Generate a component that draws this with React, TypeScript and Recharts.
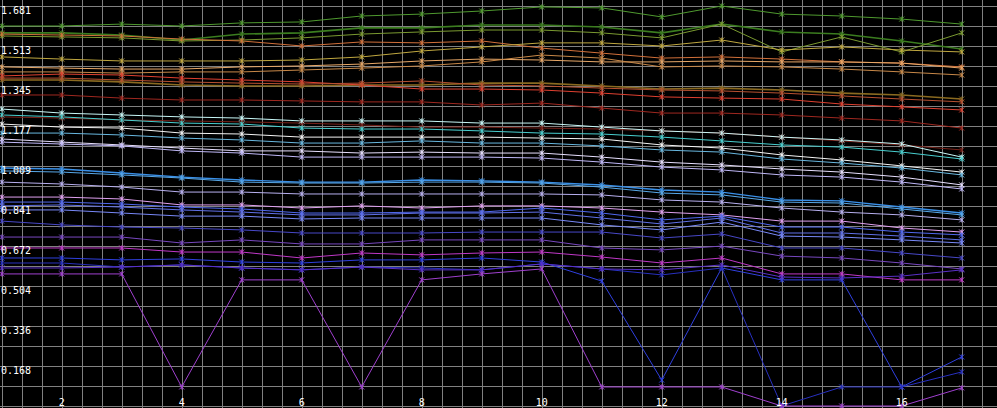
import React from "react";
import { CartesianGrid, Line, LineChart, XAxis, YAxis } from "recharts";

// Dense multi-series trace plot on a black field: ~30 series, x = 1..17.
// Values (y in data units).

const X_VALUES = [1, 2, 3, 4, 5, 6, 7, 8, 9, 10, 11, 12, 13, 14, 15, 16, 17];
const X_TICKS = [2, 4, 6, 8, 10, 12, 14, 16];
const Y_TICKS = [0.1681, 0.3362, 0.5043, 0.6724, 0.8405, 1.0086, 1.1767, 1.3448, 1.5129, 1.681];
const Y_LABELS = ["0.168", "0.336", "0.504", "0.672", "0.841", "1.009", "1.177", "1.345", "1.513", "1.681"];

// greens / olives
const S1 = [1.597, 1.597, 1.605, 1.597, 1.61, 1.614, 1.639, 1.647, 1.66, 1.677, 1.673, 1.635, 1.681, 1.647, 1.639, 1.626, 1.605];
const S2 = [1.568, 1.568, 1.559, 1.538, 1.563, 1.568, 1.589, 1.589, 1.601, 1.601, 1.593, 1.568, 1.605, 1.572, 1.563, 1.534, 1.5];
const S3 = [1.555, 1.551, 1.547, 1.534, 1.538, 1.547, 1.563, 1.572, 1.58, 1.58, 1.568, 1.547, 1.605, 1.488, 1.551, 1.488, 1.568];
// oranges
const S4 = [1.563, 1.559, 1.555, 1.542, 1.534, 1.513, 1.53, 1.526, 1.534, 1.504, 1.483, 1.462, 1.467, 1.458, 1.446, 1.441, 1.425];
const S5 = [1.467, 1.458, 1.45, 1.45, 1.45, 1.454, 1.467, 1.492, 1.509, 1.526, 1.526, 1.513, 1.538, 1.496, 1.509, 1.496, 1.488];
const S6 = [1.425, 1.42, 1.416, 1.416, 1.425, 1.429, 1.437, 1.45, 1.458, 1.454, 1.446, 1.446, 1.45, 1.446, 1.446, 1.441, 1.42];
const S7 = [1.404, 1.404, 1.399, 1.404, 1.404, 1.412, 1.42, 1.429, 1.446, 1.475, 1.462, 1.425, 1.429, 1.425, 1.416, 1.404, 1.391];
// reds
const S8 = [1.37, 1.37, 1.362, 1.349, 1.345, 1.345, 1.349, 1.349, 1.357, 1.357, 1.345, 1.332, 1.336, 1.328, 1.315, 1.307, 1.29];
const S9 = [1.387, 1.395, 1.391, 1.378, 1.37, 1.362, 1.349, 1.332, 1.332, 1.328, 1.315, 1.299, 1.294, 1.29, 1.269, 1.257, 1.244];
const S10 = [1.378, 1.378, 1.37, 1.362, 1.357, 1.353, 1.357, 1.366, 1.349, 1.345, 1.336, 1.328, 1.324, 1.315, 1.303, 1.29, 1.278];
const S11 = [1.307, 1.307, 1.294, 1.286, 1.286, 1.282, 1.278, 1.278, 1.265, 1.273, 1.252, 1.231, 1.231, 1.223, 1.21, 1.198, 1.168];
const S12 = [1.215, 1.21, 1.202, 1.198, 1.194, 1.189, 1.181, 1.172, 1.172, 1.168, 1.164, 1.156, 1.147, 1.13, 1.114, 1.097, 1.076];
// cyans / whites
const W1 = [1.248, 1.231, 1.223, 1.215, 1.21, 1.198, 1.198, 1.198, 1.189, 1.189, 1.172, 1.156, 1.147, 1.13, 1.118, 1.101, 1.046];
const W2 = [1.223, 1.215, 1.202, 1.189, 1.185, 1.168, 1.164, 1.164, 1.156, 1.147, 1.143, 1.13, 1.114, 1.097, 1.088, 1.067, 1.038];
const W3 = [1.185, 1.172, 1.168, 1.147, 1.143, 1.13, 1.13, 1.13, 1.13, 1.126, 1.122, 1.097, 1.084, 1.055, 1.034, 1.009, 0.983];
const W4 = [1.147, 1.147, 1.139, 1.126, 1.118, 1.105, 1.105, 1.114, 1.105, 1.105, 1.093, 1.076, 1.067, 1.038, 1.021, 1.0, 0.971];
const W5 = [1.122, 1.109, 1.097, 1.084, 1.072, 1.072, 1.063, 1.067, 1.063, 1.063, 1.046, 1.025, 1.013, 0.996, 0.983, 0.962, 0.929];
const W6 = [1.109, 1.101, 1.093, 1.072, 1.063, 1.046, 1.046, 1.046, 1.046, 1.042, 1.025, 1.004, 0.992, 0.971, 0.962, 0.941, 0.912];
// blues / lavenders / purples
const L18 = [1.0, 0.996, 0.979, 0.962, 0.95, 0.941, 0.941, 0.95, 0.946, 0.941, 0.929, 0.908, 0.899, 0.866, 0.862, 0.836, 0.811];
const L19 = [0.988, 0.983, 0.971, 0.958, 0.941, 0.937, 0.937, 0.941, 0.941, 0.937, 0.92, 0.895, 0.887, 0.857, 0.853, 0.828, 0.803];
const L20 = [0.941, 0.933, 0.92, 0.899, 0.899, 0.891, 0.891, 0.891, 0.891, 0.891, 0.887, 0.866, 0.857, 0.832, 0.815, 0.803, 0.782];
const L21 = [0.878, 0.878, 0.87, 0.845, 0.845, 0.832, 0.841, 0.832, 0.841, 0.841, 0.832, 0.815, 0.803, 0.777, 0.777, 0.748, 0.731];
const L22 = [0.857, 0.857, 0.849, 0.836, 0.828, 0.811, 0.811, 0.815, 0.815, 0.832, 0.811, 0.782, 0.798, 0.752, 0.752, 0.731, 0.719];
const L23 = [0.841, 0.845, 0.836, 0.824, 0.815, 0.803, 0.803, 0.811, 0.811, 0.815, 0.79, 0.765, 0.79, 0.727, 0.727, 0.714, 0.698];
const L24 = [0.824, 0.824, 0.811, 0.798, 0.798, 0.786, 0.79, 0.79, 0.79, 0.79, 0.761, 0.74, 0.773, 0.714, 0.71, 0.698, 0.685];
const L25 = [0.777, 0.761, 0.752, 0.748, 0.74, 0.727, 0.727, 0.727, 0.731, 0.731, 0.731, 0.706, 0.723, 0.664, 0.664, 0.643, 0.622];
const L26 = [0.71, 0.71, 0.71, 0.685, 0.698, 0.681, 0.681, 0.698, 0.698, 0.698, 0.664, 0.656, 0.672, 0.63, 0.622, 0.601, 0.576];
const L27 = [0.664, 0.664, 0.664, 0.647, 0.647, 0.622, 0.643, 0.635, 0.643, 0.647, 0.626, 0.601, 0.622, 0.555, 0.555, 0.53, 0.53];
const L28 = [0.622, 0.622, 0.614, 0.618, 0.605, 0.601, 0.614, 0.614, 0.622, 0.605, 0.525, 0.109, 0.58, 0.53, 0.53, 0.08, 0.206];
const L29 = [0.601, 0.601, 0.584, 0.593, 0.58, 0.572, 0.584, 0.58, 0.572, 0.597, 0.576, 0.551, 0.58, 0.0, 0.08, 0.08, 0.143];
const L30 = [0.58, 0.58, 0.584, 0.593, 0.58, 0.572, 0.584, 0.572, 0.572, 0.597, 0.576, 0.572, 0.593, 0.542, 0.538, 0.546, 0.572];
const P1 = [0.555, 0.555, 0.555, 0.08, 0.53, 0.53, 0.08, 0.53, 0.555, 0.576, 0.08, 0.08, 0.08, 0.0, 0.0, 0.0, 0.076];

const SERIES: { key: string; values: number[]; color: string; width?: number }[] = [
  { key: "s1", values: S1, color: "#4f9a2f" },
  { key: "s2", values: S2, color: "#3b7d1f", width: 1.6 },
  { key: "s3", values: S3, color: "#7a9a30" },
  { key: "s4", values: S4, color: "#d2703a" },
  { key: "s5", values: S5, color: "#c0a840" },
  { key: "s6", values: S6, color: "#e8a868" },
  { key: "s7", values: S7, color: "#c88848" },
  { key: "s8", values: S8, color: "#8a6a20", width: 1.6 },
  { key: "s9", values: S9, color: "#e04030" },
  { key: "s10", values: S10, color: "#b85030" },
  { key: "s11", values: S11, color: "#a02820" },
  { key: "s12", values: S12, color: "#782018" },
  { key: "w1", values: W1, color: "#c8f8f8" },
  { key: "w2", values: W2, color: "#48d0d0" },
  { key: "w3", values: W3, color: "#f4f4f4" },
  { key: "w4", values: W4, color: "#68b8e0" },
  { key: "w5", values: W5, color: "#e8e0ff" },
  { key: "w6", values: W6, color: "#c0b8f8" },
  { key: "l18", values: L18, color: "#3a90e8", width: 1.4 },
  { key: "l19", values: L19, color: "#58a8e8" },
  { key: "l20", values: L20, color: "#b8b0f0" },
  { key: "l21", values: L21, color: "#e0a0f0" },
  { key: "l22", values: L22, color: "#5068f0" },
  { key: "l23", values: L23, color: "#6070e8" },
  { key: "l24", values: L24, color: "#7888f8" },
  { key: "l25", values: L25, color: "#4848c8" },
  { key: "l26", values: L26, color: "#7848c0" },
  { key: "l27", values: L27, color: "#c038c8" },
  { key: "l28", values: L28, color: "#3040e0" },
  { key: "l29", values: L29, color: "#2830c0" },
  { key: "l30", values: L30, color: "#5a30c8" },
  { key: "p1", values: P1, color: "#a040d0" },
];

const rows = X_VALUES.map((x, i) => {
  const r: Record<string, number> = { x };
  SERIES.forEach((s) => (r[s.key] = s.values[i]));
  return r;
});

// plot area spans the whole window; x=1 sits ~2px in, 0 sits 2px above the bottom
const X_DOMAIN: [number, number] = [0.9717, 17.588];
const Y_DOMAIN: [number, number] = [-0.0084, 1.7062];
// fine 20px grid: every 1/3 on x, every 0.08405 on y
const GRID_X = Array.from({ length: 50 }, (_, k) => 1 + k / 3);
const GRID_Y = Array.from({ length: 21 }, (_, k) => k * 0.08405);

const FONT = "'DejaVu Sans Mono', monospace";

function gridX({ offset }: any) {
  const [d0, d1] = X_DOMAIN;
  return GRID_X.map((v) => Math.round(offset.left + ((v - d0) / (d1 - d0)) * offset.width) + 0.5);
}

function gridY({ offset }: any) {
  const [d0, d1] = Y_DOMAIN;
  return GRID_Y.map((v) => Math.round(offset.top + ((d1 - v) / (d1 - d0)) * offset.height) + 0.5);
}

function XTick(props: any) {
  return (
    <text x={props.x} y={406} fill="#ffffff" fontSize={10} fontFamily={FONT} textAnchor="middle">
      {props.payload.value}
    </text>
  );
}

function YTick(props: any) {
  const i = Y_TICKS.indexOf(props.payload.value);
  return (
    <text x={1} y={props.y + 8} fill="#ffffff" fontSize={10} fontFamily={FONT} textAnchor="start">
      {Y_LABELS[i] ?? ""}
    </text>
  );
}

function Star(props: any) {
  const { cx, cy, stroke, index } = props;
  if (cx == null || cy == null) return <g key={index} />;
  const r = 2.5;
  return (
    <path
      key={index}
      d={`M${cx - r},${cy - r}L${cx + r},${cy + r}M${cx - r},${cy + r}L${cx + r},${cy - r}M${cx},${cy - r}L${cx},${cy + r}`}
      stroke={stroke}
      strokeWidth={1}
      fill="none"
    />
  );
}

export default function App() {
  return (
    <div style={{ position: "fixed", left: 0, top: 0, width: 997, height: 408, background: "#000" }}>
      <LineChart width={997} height={408} data={rows} margin={{ top: 0, right: 0, bottom: 0, left: 0 }}>
        <CartesianGrid
          stroke="#808080"
          strokeWidth={1}
          verticalCoordinatesGenerator={gridX}
          horizontalCoordinatesGenerator={gridY}
        />
        <XAxis
          type="number"
          dataKey="x"
          domain={X_DOMAIN}
          ticks={X_TICKS}
          allowDataOverflow
          mirror
          height={20}
          axisLine={false}
          tickLine={false}
          interval={0}
          tick={<XTick />}
        />
        <YAxis
          type="number"
          domain={Y_DOMAIN}
          ticks={Y_TICKS}
          allowDataOverflow
          mirror
          width={40}
          axisLine={false}
          tickLine={false}
          interval={0}
          tick={<YTick />}
        />
        {SERIES.map((s) => (
          <Line
            key={s.key}
            dataKey={s.key}
            type="linear"
            stroke={s.color}
            strokeWidth={s.width ?? 1}
            dot={(p: any) => <Star {...p} key={`${s.key}-${p.index}`} stroke={s.color} />}
            activeDot={false}
            isAnimationActive={false}
          />
        ))}
      </LineChart>
    </div>
  );
}
